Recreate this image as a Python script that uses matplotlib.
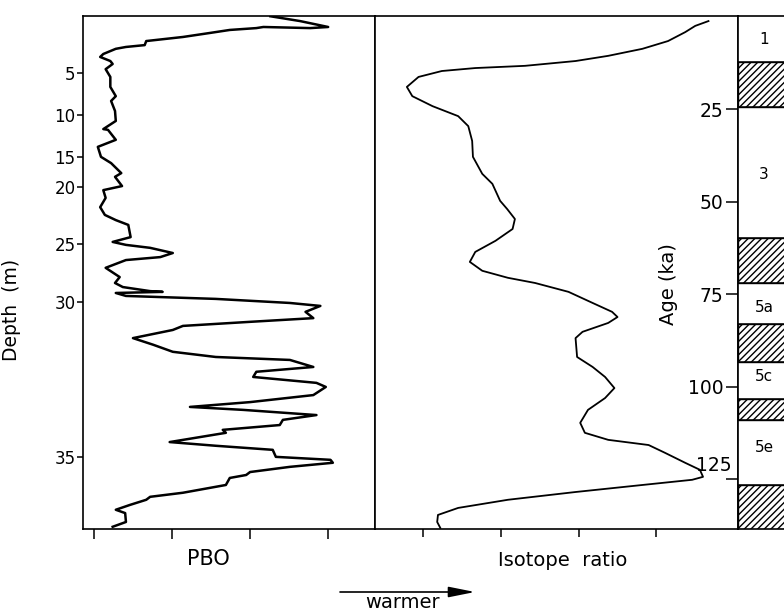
import numpy as np
import matplotlib
matplotlib.use("Agg")
import matplotlib.pyplot as plt
import matplotlib.transforms as mtransforms

plt.rcParams['hatch.linewidth'] = 1.0

# PBO record, plotted on the age scale (ka) of the core
pbo_age = [-0.2, 1.1, 2.7, 3.0, 2.7, 3.0, 3.5, 4.3, 5.4, 6.5, 7.6, 8.1, 8.6, 10.0,
           10.8, 11.9, 12.7, 14.1, 16.2, 18.9, 21.4, 22.7, 25.4, 28.1, 30.3, 30.5,
           33.2, 35.1, 37.8, 39.5, 42.2, 43.2, 45.7, 46.8, 48.9, 51.4, 53.5, 54.9,
           56.2, 59.5, 60.8, 61.6, 62.4, 63.8, 64.9, 65.7, 67.8, 70.3, 71.9, 73.0,
           74.1, 74.3, 74.6, 75.4, 76.2, 77.3, 78.1, 79.7, 81.4, 82.4, 83.5, 84.6,
           86.8, 88.6, 90.5, 91.9, 92.7, 94.6, 95.9, 97.3, 98.9, 100.0, 102.2, 104.1,
           105.4, 106.2, 107.6, 108.9, 110.3, 111.6, 112.4, 114.9, 115.9, 117.0,
           118.9, 119.7, 120.5, 121.6, 123.0, 123.8, 124.6, 126.5, 128.6, 129.7,
           130.5, 131.9, 133.2, 134.1, 136.5, 137.8]
pbo_val = [2.26, 2.64, 3.00, 2.77, 2.17, 2.08, 1.74, 1.49, 1.14, 0.67, 0.65, 0.41, 0.28,
           0.12, 0.08, 0.21, 0.24, 0.15, 0.21, 0.21, 0.28, 0.22, 0.27, 0.28, 0.12, 0.18,
           0.28, 0.05, 0.09, 0.22, 0.35, 0.27, 0.36, 0.12, 0.15, 0.08, 0.14, 0.28, 0.44,
           0.47, 0.24, 0.41, 0.72, 1.01, 0.85, 0.41, 0.15, 0.33, 0.27, 0.37, 0.72, 0.88,
           0.28, 0.41, 1.56, 2.51, 2.90, 2.71, 2.81, 2.00, 1.14, 1.01, 0.50, 0.76, 1.01,
           1.56, 2.51, 2.81, 2.08, 2.04, 2.85, 2.97, 2.81, 2.00, 1.23, 1.91, 2.85, 2.42,
           2.38, 1.65, 1.69, 0.97, 1.56, 2.29, 2.33, 3.03, 3.06, 2.51, 2.00, 1.95, 1.74,
           1.69, 1.14, 0.72, 0.67, 0.46, 0.28, 0.40, 0.41, 0.24]

# marine isotope curve
iso_age = [1.1, 2.4, 4.1, 6.5, 8.6, 10.5, 11.9, 13.2, 13.8, 14.6, 16.2, 18.9, 21.4,
           24.1, 26.8, 29.5, 33.5, 37.8, 42.4, 45.1, 49.7, 51.9, 54.6, 57.3, 60.5,
           63.5, 66.2, 68.6, 70.5, 71.9, 74.3, 77.3, 79.7, 81.1, 82.7, 85.1, 86.8,
           91.9, 94.6, 97.3, 100.3, 103.0, 106.2, 109.7, 112.4, 114.3, 115.7, 117.8,
           120.5, 122.4, 124.3, 125.1, 126.5, 128.4, 130.5, 132.7, 134.6, 136.5, 138.1]
iso_val = [3.67, 3.50, 3.37, 3.15, 2.82, 2.38, 1.96, 1.31, 0.67, 0.24, -0.06, -0.21,
           -0.14, 0.12, 0.45, 0.58, 0.63, 0.64, 0.76, 0.89, 0.99, 1.08, 1.18, 1.15,
           0.93, 0.67, 0.60, 0.76, 1.09, 1.44, 1.87, 2.18, 2.43, 2.50, 2.38, 2.05,
           1.96, 1.98, 2.18, 2.34, 2.46, 2.34, 2.12, 2.02, 2.08, 2.38, 2.90, 3.11,
           3.37, 3.56, 3.60, 3.46, 2.82, 1.96, 1.09, 0.45, 0.19, 0.18, 0.22]

# depth-age tie points for the left axis
depth_m = [5, 10, 15, 20, 25, 30, 35]
depth_age = [15.1, 26.5, 37.8, 45.9, 61.4, 77.0, 118.9]

age_ticks = [25, 50, 75, 100, 125]

# oxygen isotope stages (ka)
stage_bounds = [12.2, 24.3, 59.7, 71.9, 83.0, 93.2, 103.2, 108.9, 126.5]
cold_stages = [(12.2, 24.3), (59.7, 71.9), (83.0, 93.2), (103.2, 108.9), (126.5, 140)]
stage_names = ['1', '3', '5a', '5c', '5e']
stage_mid = [6.2, 42.7, 78.6, 97.3, 116.5]

AGE_MIN, AGE_MAX = -0.27, 138.4

W, H = 784, 611
fig = plt.figure(figsize=(W / 100, H / 100), dpi=100)

def box(x0, x1, y0=16, y1=529):
    return [x0 / W, 1 - y1 / H, (x1 - x0) / W, (y1 - y0) / H]

ax1 = fig.add_axes(box(83, 375))
ax2 = fig.add_axes(box(375, 738))
ax3 = fig.add_axes(box(738, 790))

for ax in (ax1, ax2, ax3):
    ax.set_ylim(AGE_MAX, AGE_MIN)
    for sp in ax.spines.values():
        sp.set_linewidth(1.2)

# PBO panel
ax1.plot(pbo_val, pbo_age, color='k', lw=1.8, solid_joinstyle='round')
ax1.set_xlim(-0.14, 3.60)
ax1.set_xticks([0, 1, 2, 3])
ax1.set_xticklabels([])
ax1.tick_params(axis='x', direction='out', length=7, width=1.1)
ax1.set_yticks(depth_age)
ax1.set_yticklabels([str(d) for d in depth_m], fontsize=12)
ax1.tick_params(axis='y', direction='out', length=4.3, width=1.1, pad=1)
ax1.set_ylabel('Depth  (m)', fontsize=13.5)
ax1.yaxis.set_label_coords(-0.212, 0.427)
ax1.text(0.428, -0.058, 'PBO', transform=ax1.transAxes, ha='center', va='center',
         fontsize=15)

# isotope panel
ax2.plot(iso_val, iso_age, color='k', lw=1.3)
ax2.set_xlim(-0.62, 4.05)
ax2.set_xticks([0, 1, 2, 3])
ax2.set_xticklabels([])
ax2.set_yticks([])
ax2.tick_params(axis='x', direction='out', length=6, width=1.1)
ax2.text(0.518, -0.062, 'Isotope  ratio', transform=ax2.transAxes, ha='center',
         va='center', fontsize=14)

# stage column
ax3.set_xlim(0, 1)
ax3.set_xticks([])
ax3.spines['right'].set_visible(False)
for lo, hi in cold_stages:
    ax3.axhspan(lo, hi, facecolor='white', edgecolor='k', hatch='/////', lw=1.0)
for b in stage_bounds:
    ax3.axhline(b, color='k', lw=1.1)
for name, mid in zip(stage_names, stage_mid):
    ax3.text(0.5, mid, name, ha='center', va='center', fontsize=11)

ax3.set_yticks(age_ticks)
ax3.set_yticklabels([str(a) if a != 125 else '' for a in age_ticks], fontsize=13.5)
ax3.tick_params(axis='y', direction='out', length=9, width=1.1, pad=1.5)
trans = mtransforms.blended_transform_factory(ax3.transAxes, ax3.transData)
ax3.text(-0.115, 125 - 1.2, '125', transform=trans, ha='right', va='bottom',
         fontsize=13.5)
ax3.set_ylabel('Age (ka)', fontsize=14)
ax3.yaxis.set_label_coords(-1.154, 0.478)

# warming direction
fig.add_artist(plt.Annotation('', xy=(475, H - 592), xytext=(340, H - 592),
                              xycoords='figure pixels', textcoords='figure pixels',
                              arrowprops=dict(arrowstyle='-|>,head_length=1.0,head_width=0.2',
                                              color='k', lw=1.2, mutation_scale=16,
                                              shrinkA=0, shrinkB=0)))
fig.text(403 / W, (H - 608) / H, 'warmer', ha='center', va='baseline', fontsize=14)

fig.savefig('out.png', dpi=100)
